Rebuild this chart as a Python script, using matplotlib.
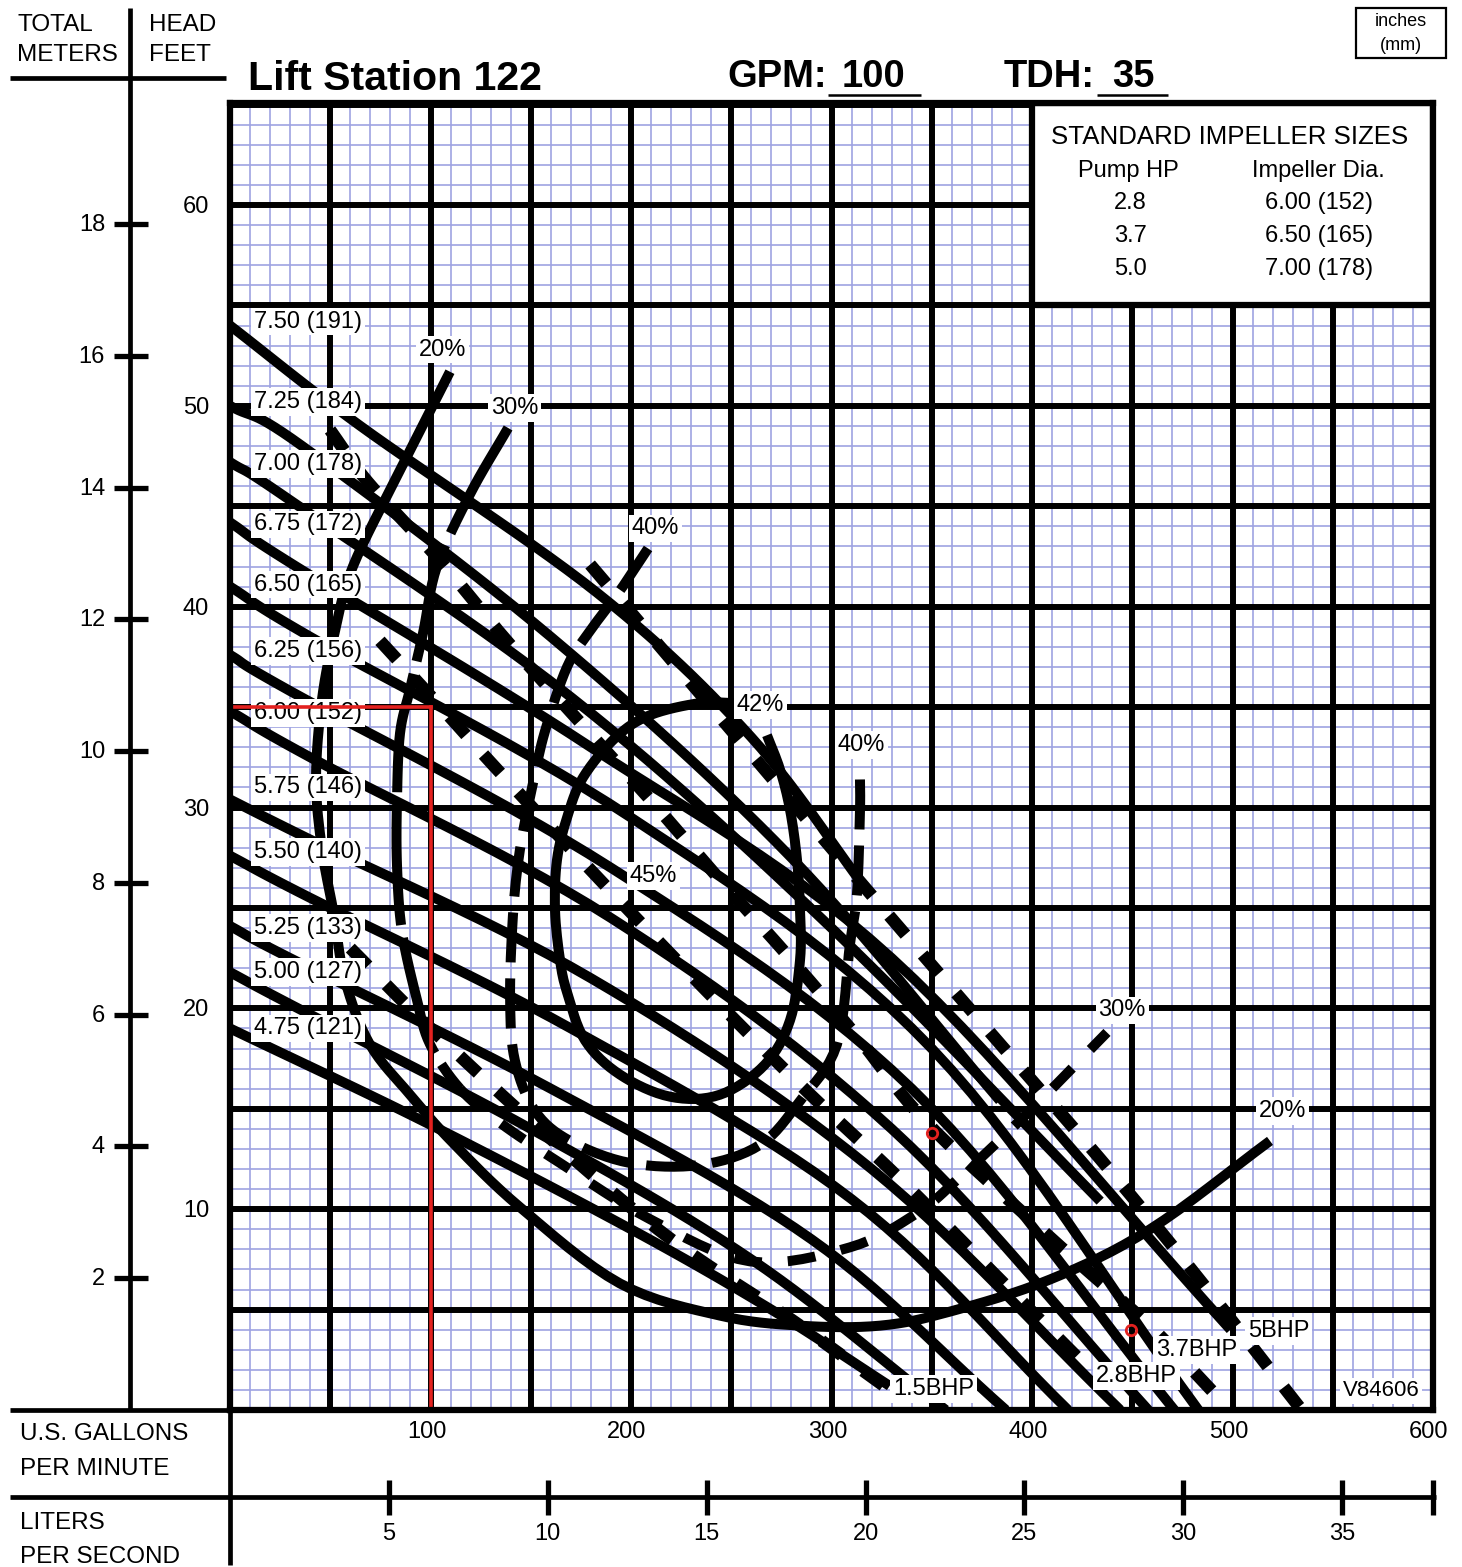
import matplotlib
matplotlib.use("Agg")
import matplotlib.pyplot as plt
import numpy as np

plt.rcParams['font.family'] = ['Liberation Sans', 'DejaVu Sans']

# ---------------- data ----------------
gpm_ticks = [100, 200, 300, 400, 500, 600]
lps_ticks = [5, 10, 15, 20, 25, 30, 35]
feet_ticks = [10, 20, 30, 40, 50, 60]
meter_ticks = [2, 4, 6, 8, 10, 12, 14, 16, 18]

impeller_labels = ["7.50 (191)", "7.25 (184)", "7.00 (178)", "6.75 (172)", "6.50 (165)",
                   "6.25 (156)", "6.00 (152)", "5.75 (146)", "5.50 (140)", "5.25 (133)",
                   "5.00 (127)", "4.75 (121)"]
label_heads = [54.2, 50.2, 47.1, 44.1, 41.1, 37.8, 34.7, 31.0, 27.8, 24.0, 21.8, 19.0]

# impeller curves (GPM, feet)
imp_q = [
    [0, 65, 183, 260, 319],
    [0, 36, 160, 280, 384],
    [0, 30, 170, 300, 434],
    [0, 33, 180, 330, 499],
    [0, 40, 200, 350, 483],
    [0, 30, 190, 340, 471],
    [0, 40, 190, 330, 458],
    [0, 38, 180, 320, 444],
    [0, 40, 170, 310, 418],
    [0, 30, 160, 290, 387],
    [0, 32, 150, 260, 357],
    [0, 98, 200, 270, 329],
]
imp_h = [
    [54.0, 49.0, 40.7, 33.5, 25.7],
    [50.0, 48.0, 38.5, 27.5, 15.4],
    [47.2, 45.3, 35.5, 24.0, 10.4],
    [44.2, 42.0, 33.0, 22.5, 4.0],
    [41.0, 38.5, 29.5, 18.0, 0.0],
    [37.6, 35.8, 27.0, 16.0, 0.0],
    [34.8, 32.5, 24.5, 14.0, 0.0],
    [30.4, 28.5, 21.5, 12.0, 0.0],
    [27.6, 25.5, 19.0, 10.5, 0.0],
    [24.1, 22.5, 16.0, 8.5, 0.0],
    [21.8, 20.1, 14.0, 7.5, 0.0],
    [19.0, 14.3, 9.0, 5.0, 1.2],
]

# efficiency curves (GPM, feet)
eff20_q = [109.7, 84.8, 61.3, 52.4, 45.9, 42.9, 45.9, 51.4, 57.4, 69.8, 89.8, 111.2, 144.6,
           194.5, 244.4, 284.3, 324.2, 359.1, 409.0, 458.9, 518.7]
eff20_h = [51.7, 46.8, 42.0, 38.8, 35.4, 31.4, 27.9, 24.9, 21.4, 18.2, 15.7, 13.3, 10.1,
           6.3, 4.7, 4.2, 4.2, 4.9, 6.5, 9.0, 13.4]
eff30_q = [138.7, 119.7, 103.2, 96.3, 89.8, 84.8, 83.3, 83.3, 85.8, 93.3, 99.8, 114.7, 134.7,
           164.6, 209.5, 259.4, 309.2, 342.6, 364.1, 399.0, 437.4]
eff30_h = [48.9, 45.6, 42.0, 38.7, 35.9, 33.7, 30.4, 27.1, 23.8, 20.4, 18.2, 16.0, 14.3,
           12.3, 9.5, 7.4, 8.1, 9.8, 11.6, 14.9, 18.8]
eff40_q = [208.5, 194.5, 179.6, 168.1, 157.1, 151.1, 144.6, 141.1, 139.7, 142.1, 152.1, 169.6,
           199.5, 234.4, 264.3, 284.3, 302.7, 309.2, 312.7, 314.2, 314.2]
eff40_h = [42.9, 40.8, 38.8, 37.0, 33.8, 31.2, 27.9, 24.6, 20.4, 17.4, 14.9, 13.4,
           12.3, 12.2, 13.2, 15.4, 18.2, 23.2, 25.7, 29.8, 31.4]
eff42_q = [251.9, 234.4, 209.5, 192.5, 176.1, 168.1, 163.1, 162.1, 164.6, 168.1, 177.1, 194.5,
           219.5, 244.4, 266.8, 279.3, 284.3, 284.3, 282.8, 279.3, 274.3, 267.8]
eff42_h = [35.2, 35.2, 34.6, 33.5, 31.5, 29.5, 27.4, 24.9, 22.4, 20.8, 18.4, 16.7,
           15.6, 15.7, 17.2, 19.4, 22.4, 24.9, 27.4, 29.9, 31.9, 33.6]

# brake horsepower curves (GPM, feet)
bhp5_q = [179.6, 244.4, 317.7, 379.1, 434.0, 480.3, 533.7]
bhp5_h = [42.1, 34.5, 25.9, 18.8, 12.5, 6.9, 0.1]
bhp37_q = [49.9, 68.8, 104.7, 137.2, 173.1, 209.5, 244.4, 279.3, 312.7, 347.6, 409.0,
           455.4, 475.3, 496.3]
bhp37_h = [48.8, 46.2, 42.3, 38.4, 34.4, 30.4, 26.4, 22.5, 18.6, 14.3, 8.6,
           4.5, 2.5, 0.25]
bhp28_q = [74.8, 109.7, 133.2, 184.5, 234.4, 284.3, 334.2, 384.0, 428.9]
bhp28_h = [38.3, 34.5, 31.9, 26.4, 21.2, 16.2, 11.5, 6.5, 2.0]
bhp15_q = [60.0, 100.0, 160.0, 220.0, 280.0, 329.0]
bhp15_h = [23.0, 19.0, 13.5, 8.5, 4.5, 1.0]

duty_q = 100
duty_h = 35
marker_q = [350.1, 449.4]
marker_h = [13.8, 3.98]

table_hp = ["2.8", "3.7", "5.0"]
table_dia = ["6.00 (152)", "6.50 (165)", "7.00 (178)"]

# ---------------- helpers ----------------
SX, SY = 2.005, 20.08   # pixels per GPM / per foot (isotropic smoothing space)


def smooth(q, h, n=14):
    """Catmull-Rom curve through the read points (drawing aid only)."""
    p = np.column_stack([np.asarray(q, float) * SX, np.asarray(h, float) * SY])
    if len(p) < 3:
        return q, h
    ext = np.vstack([2 * p[0] - p[1], p, 2 * p[-1] - p[-2]])
    out = []
    t = np.linspace(0, 1, n, endpoint=False)[:, None]
    for i in range(1, len(ext) - 2):
        p0, p1, p2, p3 = ext[i - 1], ext[i], ext[i + 1], ext[i + 2]
        seg = 0.5 * ((2 * p1) + (-p0 + p2) * t + (2 * p0 - 5 * p1 + 4 * p2 - p3) * t ** 2
                     + (-p0 + 3 * p1 - 3 * p2 + p3) * t ** 3)
        out.append(seg)
    out.append(p[-1][None, :])
    out = np.vstack(out)
    return out[:, 0] / SX, out[:, 1] / SY


# ---------------- figure ----------------
W, H = 1462, 1567
fig = plt.figure(figsize=(W / 100, H / 100), dpi=100)
fig.patch.set_facecolor("white")

X0, X1, Y0, Y1 = 230, 1433, 103, 1410   # axes box in pixels (y from top)
ax = fig.add_axes([X0 / W, 1 - Y1 / H, (X1 - X0) / W, (Y1 - Y0) / H])
ax.set_xlim(0, 600)
ax.set_ylim(0, 65.08)
ax.set_xticks([])
ax.set_yticks([])
for s in ax.spines.values():
    s.set_linewidth(4.5)
    s.set_color("black")
    s.set_zorder(20)

# grid
blue = "#9ea3e2"
for q in range(10, 600, 10):
    if q % 50:
        ax.axvline(q, color=blue, lw=1.2, zorder=1)
for h in range(1, 66):
    if h % 5:
        ax.axhline(h, color=blue, lw=1.2, zorder=1)
for q in range(50, 600, 50):
    ax.axvline(q, color="black", lw=4.3, zorder=2)
for h in range(5, 66, 5):
    ax.axhline(h, color="black", lw=4.3, zorder=2)

# standard impeller table box (white)
ax.add_patch(plt.Rectangle((400, 55), 200, 10.08, facecolor="white", edgecolor="black",
                           lw=4.5, zorder=3))
ax.text(498.5, 63.4, "STANDARD IMPELLER SIZES", ha="center", va="center", fontsize=18.6, zorder=4)
ax.text(448, 61.7, "Pump HP", ha="center", va="center", fontsize=17, zorder=4)
ax.text(543, 61.7, "Impeller Dia.", ha="center", va="center", fontsize=17, zorder=4)
for i, (hp, dia) in enumerate(zip(table_hp, table_dia)):
    yy = 60.1 - i * 1.65
    ax.text(449, yy, hp, ha="center", va="center", fontsize=17, zorder=4)
    ax.text(543, yy, dia, ha="center", va="center", fontsize=17, zorder=4)

LW = 7.2
# impeller curves
for q, h in zip(imp_q, imp_h):
    sq, sh = smooth(q, h)
    ax.plot(sq, sh, color="black", lw=LW, solid_capstyle="butt", zorder=6)

# efficiency curves
sq, sh = smooth(eff20_q, eff20_h, 8)
ax.plot(sq, sh, color="black", lw=LW, solid_capstyle="butt", zorder=6)
sq, sh = smooth(eff42_q, eff42_h, 8)
ax.plot(sq, sh, color="black", lw=LW, solid_capstyle="butt", zorder=6)
sq, sh = smooth(eff30_q, eff30_h, 8)
ax.plot(sq[:8 * 11 + 1], sh[:8 * 11 + 1], color="black", lw=LW, dashes=(12, 1.3),
        dash_capstyle="butt", zorder=6)
ax.plot(sq[8 * 11:], sh[8 * 11:], color="black", lw=LW, dashes=(2.8, 2.6),
        dash_capstyle="butt", zorder=6)
sq, sh = smooth(eff40_q, eff40_h, 8)
ax.plot(sq, sh, color="black", lw=LW, dashes=(5.0, 1.6), dash_capstyle="butt", zorder=6)

# BHP curves
for q, h in [(bhp5_q, bhp5_h), (bhp37_q, bhp37_h), (bhp28_q, bhp28_h), (bhp15_q, bhp15_h)]:
    sq, sh = smooth(q, h, 10)
    ax.plot(sq, sh, color="black", lw=LW + 1.8, dashes=(2.0, 2.1), dash_capstyle="butt",
            zorder=6)

# impeller labels
box = dict(boxstyle="square,pad=0.12", facecolor="white", edgecolor="none")
for lab, hh in zip(impeller_labels, label_heads):
    ax.text(12, hh, lab, ha="left", va="center", fontsize=17, bbox=box, zorder=8)

# efficiency labels
eff_labels = [("20%", 106, 52.8), ("30%", 142, 49.9), ("40%", 212, 43.9), ("42%", 264.5, 35.1),
              ("40%", 315, 33.1), ("45%", 211, 26.6), ("30%", 445, 19.9), ("20%", 525, 14.9)]
for t, q, hh in eff_labels:
    ax.text(q, hh, t, ha="center", va="center", fontsize=17, bbox=box, zorder=10)
bhp_labels = [("1.5BHP", 351, 1.05), ("2.8BHP", 452, 1.7), ("3.7BHP", 482, 2.98), ("5BHP", 523, 3.95)]
for t, q, hh in bhp_labels:
    ax.text(q, hh, t, ha="center", va="center", fontsize=17, bbox=box, zorder=8)
ax.text(574, 0.95, "V84606", ha="center", va="center", fontsize=16, bbox=box, zorder=8)

# duty point lines
red = "#e3211f"
ax.plot([0, duty_q], [duty_h, duty_h], color=red, lw=2.6, zorder=11)
ax.plot([duty_q, duty_q], [duty_h, 0], color=red, lw=2.6, zorder=11)
ax.plot(marker_q, marker_h, "o", ms=7.5, mfc="none", mec=red, mew=2.0, zorder=12)

# ---------------- outer decorations (figure pixel coords) ----------------
def fx(x):
    return x / W


def fy(y):
    return 1 - y / H


def line(x0, y0, x1, y1, lw=3.4):
    fig.add_artist(plt.Line2D([fx(x0), fx(x1)], [fy(y0), fy(y1)], color="black", lw=lw,
                              solid_capstyle="butt"))


line(130, 8, 130, 1410)
line(10, 78, 226, 78)
line(10, 1410, 232, 1410)
line(10, 1497, 1436, 1497)
line(230, 1410, 230, 1565)

fs_lab = 17.5
fig.text(fx(17), fy(25), "TOTAL", fontsize=fs_lab, va="center")
fig.text(fx(17), fy(55), "METERS", fontsize=fs_lab, va="center")
fig.text(fx(149), fy(25), "HEAD", fontsize=fs_lab, va="center")
fig.text(fx(149), fy(55), "FEET", fontsize=fs_lab, va="center")

ft_px = (Y1 - 205) / 60.0
for f in feet_ticks:
    fig.text(fx(196), fy(Y1 - f * ft_px + 2), str(f), fontsize=17, ha="center", va="center")
for m in meter_ticks:
    yy = Y1 - m * 3.28084 * ft_px
    line(114, yy, 148, yy, lw=3.8)
    fig.text(fx(105), fy(yy + 1), str(m), fontsize=17, ha="right", va="center")

gpm_px = (X1 - X0) / 600.0
for g in gpm_ticks:
    fig.text(fx(X0 + g * gpm_px - 4), fy(1432), str(g), fontsize=17, ha="center", va="center")
fig.text(fx(20), fy(1434), "U.S. GALLONS", fontsize=fs_lab, va="center")
fig.text(fx(20), fy(1469), "PER MINUTE", fontsize=fs_lab, va="center")
fig.text(fx(20), fy(1523), "LITERS", fontsize=fs_lab, va="center")
fig.text(fx(20), fy(1557), "PER SECOND", fontsize=fs_lab, va="center")
for l in lps_ticks:
    xx = X0 + l * 15.8503 * gpm_px
    line(xx, 1480, xx, 1515, lw=3.8)
    fig.text(fx(xx), fy(1534), str(l), fontsize=17, ha="center", va="center")
line(X1, 1480, X1, 1515, lw=3.8)

# title row
fig.text(fx(248), fy(79), "Lift Station 122", fontsize=29.5, fontweight="heavy", va="center")
fig.text(fx(727), fy(77), "GPM:", fontsize=27.5, fontweight="heavy", va="center")
fig.text(fx(874), fy(77), "100", fontsize=27.5, fontweight="heavy", va="center", ha="center")
line(828, 95, 921, 95, lw=1.8)
fig.text(fx(1004), fy(77), "TDH:", fontsize=27.5, fontweight="heavy", va="center")
fig.text(fx(1133), fy(77), "35", fontsize=27.5, fontweight="heavy", va="center", ha="center")
line(1097, 95, 1168, 95, lw=1.8)

# inches (mm) box
fig.add_artist(plt.Rectangle((fx(1356), fy(58)), (1446 - 1356) / W, 50 / H, fill=False,
                             edgecolor="black", lw=1.6))
fig.text(fx(1401), fy(22), "inches", fontsize=13, ha="center", va="center")
fig.text(fx(1401), fy(45), "(mm)", fontsize=13, ha="center", va="center")

fig.savefig("out.png", dpi=100, facecolor="white")
